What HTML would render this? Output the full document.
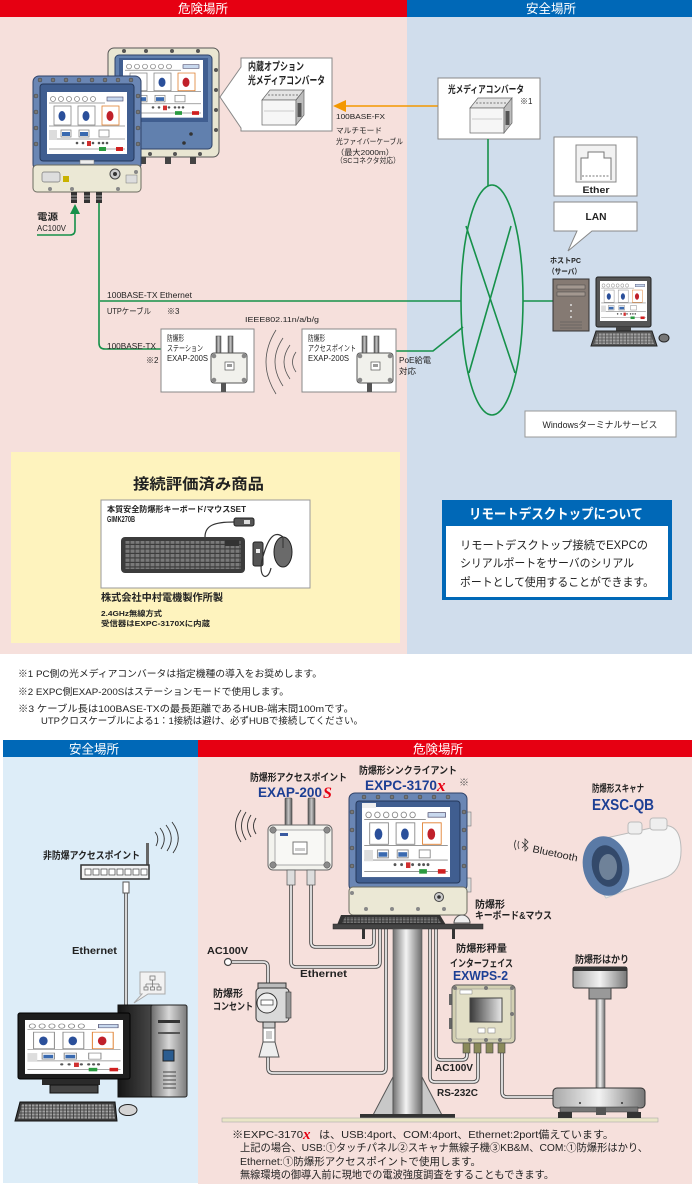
<!DOCTYPE html>
<html><head><meta charset="utf-8">
<style>
html,body{margin:0;padding:0;background:#fff;width:700px;height:1196px;overflow:hidden}
svg{display:block}
text{font-family:"Liberation Sans","Noto Sans CJK JP",sans-serif;fill:#222}
.b{font-weight:bold}
.w{fill:#fff}
.nv{fill:#1d3f94}
</style></head><body>
<svg width="700" height="1196" viewBox="0 0 700 1196" xmlns="http://www.w3.org/2000/svg" xmlns:xlink="http://www.w3.org/1999/xlink">
<defs>
<linearGradient id="gPole" x1="0" x2="1"><stop offset="0" stop-color="#707070"/><stop offset=".45" stop-color="#f4f4f4"/><stop offset="1" stop-color="#6a6a6a"/></linearGradient>
<linearGradient id="gMetal" x1="0" x2="1"><stop offset="0" stop-color="#a8a8a8"/><stop offset=".5" stop-color="#f2f2f2"/><stop offset="1" stop-color="#777"/></linearGradient>
<linearGradient id="gScr" x1="0" x2="1"><stop offset="0" stop-color="#3a3a3a"/><stop offset="1" stop-color="#e8e8e8"/></linearGradient>
<linearGradient id="gTower" x1="0" x2="1"><stop offset="0" stop-color="#151515"/><stop offset="1" stop-color="#4a4a4a"/></linearGradient>
<linearGradient id="gFront" x1="0" x2="1"><stop offset="0" stop-color="#6a6a6a"/><stop offset=".5" stop-color="#d8d8d8"/><stop offset="1" stop-color="#7a7a7a"/></linearGradient>
<linearGradient id="gAnt" x1="0" x2="1"><stop offset="0" stop-color="#555"/><stop offset=".5" stop-color="#c8c8c8"/><stop offset="1" stop-color="#555"/></linearGradient>
<pattern id="pKeys" width="5" height="4.5" patternUnits="userSpaceOnUse"><rect x=".5" y=".5" width="4" height="3.3" fill="#7a7a7a"/></pattern>
<pattern id="pKeys2" width="3.5" height="3" patternUnits="userSpaceOnUse"><rect x=".4" y=".4" width="2.7" height="2.2" fill="#a0a0a0"/></pattern>
<g id="scr">
 <rect width="80" height="62" fill="#fff"/>
 <g fill="none" stroke="#888" stroke-width="0.8">
  <circle cx="6" cy="7" r="2.5"/><circle cx="14" cy="7" r="2.5"/><circle cx="22" cy="7" r="2.5"/><circle cx="30" cy="7" r="2.5"/><circle cx="38" cy="7" r="2.5"/><circle cx="46" cy="7" r="2.5"/>
  <line x1="2" y1="11" x2="58" y2="11"/>
  <rect x="7" y="14" width="17" height="19"/><rect x="31" y="14" width="17" height="19"/>
  <line x1="2" y1="34" x2="78" y2="34"/>
  <rect x="14" y="38" width="10" height="7"/><rect x="32" y="38" width="10" height="7"/><rect x="52" y="38" width="10" height="7"/>
  <line x1="2" y1="47" x2="78" y2="47"/>
  <line x1="2" y1="57" x2="78" y2="57"/>
 </g>
 <rect x="55" y="14" width="17" height="19" fill="#fff" stroke="#e08030" stroke-width="0.8"/>
 <rect x="60" y="5" width="16" height="4" fill="#c8d8ee" stroke="#446" stroke-width="0.6"/>
 <ellipse cx="15" cy="24" rx="3.5" ry="5" fill="#2a4f9a"/><ellipse cx="39" cy="24" rx="3.5" ry="5" fill="#2a4f9a"/><ellipse cx="63" cy="24" rx="3.5" ry="5" fill="#c0202a"/>
 <rect x="15" y="40" width="8" height="4" fill="#3a6ab0"/><rect x="33" y="40" width="8" height="4" fill="#3a6ab0"/>
 <rect x="2" y="38" width="8" height="10" fill="#ddd"/>
 <g fill="#555"><circle cx="30" cy="51" r="1.3"/><circle cx="36" cy="51" r="1.3"/><circle cx="46" cy="51" r="1.3"/><circle cx="52" cy="51" r="1.3"/><circle cx="56" cy="51" r="1.3"/><circle cx="60" cy="51" r="1.3"/></g>
 <rect x="40" y="49" width="4" height="5" fill="#d03030"/>
 <rect x="52" y="55" width="7" height="4" fill="#2a9a40"/><rect x="69" y="55" width="7" height="4" fill="#d02020"/>
</g>
<g id="cables" fill="none">
 <path d="M291,885 V962 Q291,967 296,967 H375 Q380,967 380,962 V929"/>
 <path d="M311,885 V942 Q311,947 316,947 H369 Q374,947 374,942 V929"/>
 <path d="M268,1057 V1068 Q268,1073 273,1073 H381 Q386,1073 386,1068 V929"/>
 <path d="M232,962 H263 Q268,962 268,967 V985"/>
 <path d="M436,929 V1055 Q436,1060 441,1060 H462 Q467,1060 467,1055 V1052"/>
 <path d="M430,929 V1077 Q430,1082 435,1082 H473 Q478,1082 478,1077 V1052"/>
 <path d="M502,1052 V1092 Q502,1097 507,1097 H554"/>
 <path d="M126,893 V1006"/>
</g>
<g id="exap">
 <rect x="216" y="336" width="5" height="20" fill="url(#gAnt)" stroke="#444" stroke-width=".5"/>
 <rect x="228" y="336" width="5" height="20" fill="url(#gAnt)" stroke="#444" stroke-width=".5"/>
 <rect x="211" y="353" width="36" height="30" rx="3" fill="#f1f1ec" stroke="#555"/>
 <g fill="#888"><circle cx="214" cy="356" r="2.3"/><circle cx="244" cy="356" r="2.3"/><circle cx="214" cy="380" r="2.3"/><circle cx="244" cy="380" r="2.3"/></g>
 <rect x="225" y="362" width="9" height="8" fill="#fff" stroke="#555" stroke-width=".7"/>
 <rect x="227" y="364" width="5" height="3" fill="#999"/>
 <rect x="221" y="383" width="5" height="9" fill="#555"/>
</g>
<g id="conv">
 <polygon points="0,11 8,1 42,1 34,11" fill="#e4e4e4" stroke="#666" stroke-width=".7"/>
 <rect x="0" y="11" width="34" height="25" fill="#f6f6f6" stroke="#666" stroke-width=".7"/>
 <polygon points="34,11 42,1 42,26 34,36" fill="#bdbdbd" stroke="#666" stroke-width=".7"/>
 <line x1="6" y1="6" x2="36" y2="6" stroke="#777" stroke-dasharray="2 1.5"/>
 <line x1="2" y1="22" x2="32" y2="22" stroke="#ccc"/>
 <rect x="35.5" y="14" width="4" height="14" fill="#555"/>
</g>
</defs>

<!-- ================= TOP SECTION ================= -->
<rect x="0" y="17" width="407" height="637" fill="#f6e0dc"/>
<rect x="407" y="17" width="285" height="637" fill="#d0ddec"/>
<rect x="0" y="0" width="407" height="17" fill="#e60012"/>
<rect x="407" y="0" width="285" height="17" fill="#0068b7"/>
<text x="203" y="13" class="w" font-size="12.5" text-anchor="middle">危険場所</text>
<text x="551" y="13" class="w" font-size="12.5" text-anchor="middle">安全場所</text>

<!-- back EXPC -->
<rect x="108" y="48" width="111" height="109" rx="6" fill="#e9e6d2" stroke="#555"/>
<rect x="115" y="55" width="97" height="94" rx="4" fill="#6180ae" stroke="#2e4268"/>
<rect x="119" y="58" width="89" height="64" fill="#405e90"/>
<use xlink:href="#scr" transform="translate(123,60) scale(1,0.93)"/>
<g fill="#333"><circle cx="191" cy="134" r="1.8"/><circle cx="184" cy="143" r="1.8"/></g>
<g fill="#555"><circle cx="124" cy="51" r="2"/><circle cx="146" cy="51" r="2"/><circle cx="172" cy="51" r="2"/><circle cx="198" cy="51" r="2"/>
<circle cx="216" cy="70" r="2"/><circle cx="216" cy="90" r="2"/><circle cx="216" cy="110" r="2"/><circle cx="216" cy="130" r="2"/>
<circle cx="150" cy="154" r="2"/><circle cx="175" cy="154" r="2"/><circle cx="200" cy="154" r="2"/></g>
<rect x="140" y="157" width="6" height="7" fill="#444"/><rect x="165" y="157" width="6" height="7" fill="#444"/><rect x="190" y="157" width="6" height="7" fill="#444"/>

<!-- front EXPC -->
<rect x="33" y="76" width="108" height="94" rx="6" fill="#6a86b4" stroke="#2e4268"/>
<rect x="40" y="84" width="94" height="77" rx="3" fill="#405e90" stroke="#25385a"/>
<use xlink:href="#scr" x="47" y="92"/>
<g fill="#777" stroke="#333" stroke-width=".4">
<circle cx="40" cy="80" r="2"/><circle cx="53" cy="80" r="2"/><circle cx="66" cy="80" r="2"/><circle cx="79" cy="80" r="2"/><circle cx="92" cy="80" r="2"/><circle cx="105" cy="80" r="2"/><circle cx="118" cy="80" r="2"/><circle cx="131" cy="80" r="2"/>
<circle cx="36" cy="96" r="2"/><circle cx="36" cy="112" r="2"/><circle cx="36" cy="128" r="2"/><circle cx="36" cy="144" r="2"/>
<circle cx="138" cy="96" r="2"/><circle cx="138" cy="112" r="2"/><circle cx="138" cy="128" r="2"/><circle cx="138" cy="144" r="2"/>
</g>
<rect x="80" y="160" width="14" height="4" fill="#eee" stroke="#777" stroke-width=".5"/>
<rect x="33" y="165" width="108" height="27" rx="4" fill="#ebe8d5" stroke="#6b6b60"/>
<rect x="42" y="172" width="18" height="10" rx="2" fill="#ddd" stroke="#777" stroke-width=".7"/>
<rect x="63" y="176" width="6" height="6" fill="#c9b200"/>
<circle cx="115" cy="174" r="5" fill="#ccc" stroke="#444"/><circle cx="115" cy="174" r="2" fill="#333"/>
<rect x="126" y="175" width="11" height="8" fill="#ddd" stroke="#777" stroke-width=".5"/>
<g fill="#888"><circle cx="50" cy="189" r="2"/><circle cx="72" cy="189" r="2"/><circle cx="118" cy="189" r="2"/><circle cx="136" cy="172" r="2"/></g>
<g fill="#333"><rect x="71" y="192" width="6" height="11"/><rect x="84" y="192" width="6" height="11"/><rect x="96" y="192" width="6" height="11"/></g>
<g stroke="#bbb" stroke-width=".8"><line x1="71" y1="196" x2="77" y2="196"/><line x1="84" y1="196" x2="90" y2="196"/><line x1="96" y1="196" x2="102" y2="196"/><line x1="71" y1="199" x2="77" y2="199"/><line x1="84" y1="199" x2="90" y2="199"/><line x1="96" y1="199" x2="102" y2="199"/></g>

<!-- callout 内蔵オプション -->
<path d="M241,58 H332 V131 H241 V128 L220,97 L241,67 Z" fill="#fff" stroke="#888"/>
<text x="248" y="70" class="b" font-size="11" textLength="56" lengthAdjust="spacingAndGlyphs">内蔵オプション</text>
<text x="248" y="84" class="b" font-size="11" textLength="77" lengthAdjust="spacingAndGlyphs">光メディアコンバータ</text>
<use xlink:href="#conv" x="262" y="89"/>

<!-- orange fiber -->
<line x1="344" y1="106" x2="438" y2="106" stroke="#f39800" stroke-width="1.5"/>
<polygon points="333,106 346,100 346,112" fill="#f39800"/>
<text x="336" y="119" font-size="7.5" textLength="49" lengthAdjust="spacingAndGlyphs">100BASE-FX</text>
<text x="336" y="133" font-size="7.5" textLength="46" lengthAdjust="spacingAndGlyphs">マルチモード</text>
<text x="336" y="144" font-size="7.5" textLength="67" lengthAdjust="spacingAndGlyphs">光ファイバーケーブル</text>
<text x="336" y="155" font-size="7.5" textLength="58" lengthAdjust="spacingAndGlyphs">（最大2000m）</text>
<text x="336" y="163" font-size="7.5" textLength="64" lengthAdjust="spacingAndGlyphs">（SCコネクタ対応）</text>

<!-- right converter -->
<rect x="438" y="78" width="102" height="61" fill="#fff" stroke="#888"/>
<text x="448" y="93" class="b" font-size="10" textLength="76" lengthAdjust="spacingAndGlyphs">光メディアコンバータ</text>
<text x="520" y="104" font-size="8">※1</text>
<use xlink:href="#conv" x="470" y="97"/>

<!-- Ether / LAN -->
<rect x="554" y="137" width="83" height="59" fill="#fff" stroke="#888"/>
<rect x="576" y="145" width="40" height="37" fill="#f2f2f2" stroke="#888"/>
<path d="M581,180 V158 H588 V152 H604 V158 H611 V180" fill="#fff" stroke="#777"/>
<line x1="582" y1="176" x2="610" y2="176" stroke="#777" stroke-dasharray="2 1.5"/>
<text x="596" y="193" text-anchor="middle" class="b" font-size="9" textLength="27" lengthAdjust="spacingAndGlyphs">Ether</text>
<path d="M554,202 H637 V231 H592 L568,251 L577,231 H554 Z" fill="#fff" stroke="#888"/>
<text x="596" y="220" text-anchor="middle" class="b" font-size="10" textLength="21" lengthAdjust="spacingAndGlyphs">LAN</text>

<!-- green network lines -->
<g fill="none" stroke="#16914a" stroke-width="1.6">
 <line x1="488" y1="139" x2="488" y2="186"/>
 <ellipse cx="492" cy="300" rx="31" ry="115"/>
 <line x1="466" y1="226" x2="515" y2="373"/>
 <line x1="511" y1="226" x2="469" y2="373"/>
 <line x1="100" y1="301" x2="461" y2="301"/>
 <line x1="523" y1="301" x2="553" y2="301"/>
 <path d="M99,203 V343 Q99,349 105,349 H161"/>
 <polyline points="396,351 433,351 463,327"/>
 <path d="M37,235 H70 Q75,235 75,230 V213"/>
</g>
<polygon points="75,204 70,214 80,214" fill="#16914a"/>
<text x="37" y="220" class="b" font-size="9" textLength="21" lengthAdjust="spacingAndGlyphs">電源</text>
<text x="37" y="231" font-size="8.5" textLength="29" lengthAdjust="spacingAndGlyphs">AC100V</text>

<text x="107" y="298" font-size="8" textLength="85" lengthAdjust="spacingAndGlyphs">100BASE-TX Ethernet</text>
<text x="107" y="314" font-size="8" textLength="44" lengthAdjust="spacingAndGlyphs">UTPケーブル</text>
<text x="167" y="314" font-size="8">※3</text>
<text x="107" y="349" font-size="8" textLength="49" lengthAdjust="spacingAndGlyphs">100BASE-TX</text>
<text x="146" y="363" font-size="8">※2</text>
<text x="245" y="322" font-size="7.5" textLength="74" lengthAdjust="spacingAndGlyphs">IEEE802.11n/a/b/g</text>

<!-- station box -->
<rect x="161" y="329" width="93" height="63" fill="#fff" stroke="#888"/>
<text x="167" y="341" font-size="8" textLength="17" lengthAdjust="spacingAndGlyphs">防爆形</text>
<text x="167" y="351" font-size="8" textLength="36" lengthAdjust="spacingAndGlyphs">ステーション</text>
<text x="167" y="361" font-size="8" textLength="41" lengthAdjust="spacingAndGlyphs">EXAP-200S</text>
<use xlink:href="#exap"/>
<!-- AP box -->
<rect x="302" y="329" width="94" height="63" fill="#fff" stroke="#888"/>
<text x="308" y="341" font-size="8" textLength="17" lengthAdjust="spacingAndGlyphs">防爆形</text>
<text x="308" y="351" font-size="8" textLength="48" lengthAdjust="spacingAndGlyphs">アクセスポイント</text>
<text x="308" y="361" font-size="8" textLength="41" lengthAdjust="spacingAndGlyphs">EXAP-200S</text>
<use xlink:href="#exap" x="146"/>
<!-- waves -->
<g fill="none" stroke="#555" stroke-width=".8">
 <path d="M276,330 Q256,362 276,394"/>
 <path d="M283,338 Q267,362 283,386"/>
 <path d="M290,345 Q278,362 290,379"/>
 <path d="M296,352 Q289,362 296,372"/>
</g>
<text x="399" y="363" font-size="8" textLength="32" lengthAdjust="spacingAndGlyphs">PoE給電</text>
<text x="399" y="374" font-size="8" textLength="17" lengthAdjust="spacingAndGlyphs">対応</text>

<!-- host PC -->
<text x="550" y="263" class="b" font-size="7.5" textLength="31" lengthAdjust="spacingAndGlyphs">ホストPC</text>
<text x="548" y="274" class="b" font-size="7.5" textLength="33" lengthAdjust="spacingAndGlyphs">（サーバ）</text>
<rect x="553" y="279" width="36" height="52" fill="#857a73" stroke="#333"/>
<rect x="557" y="285" width="28" height="4" fill="#a39890" stroke="#444" stroke-width=".5"/>
<rect x="557" y="292" width="28" height="4" fill="#a39890" stroke="#444" stroke-width=".5"/>
<g fill="#ddd"><circle cx="571" cy="305" r="1"/><circle cx="571" cy="311" r="1"/><circle cx="571" cy="317" r="1"/></g>
<g stroke="#555" stroke-width=".6"><line x1="560" y1="322" x2="582" y2="322"/><line x1="560" y1="325" x2="582" y2="325"/><line x1="560" y1="328" x2="582" y2="328"/></g>
<rect x="596" y="277" width="55" height="50" rx="2" fill="#555" stroke="#222"/>
<use xlink:href="#scr" transform="translate(600,281) scale(0.5875,0.645)"/>
<rect x="616" y="327" width="15" height="4" fill="#444"/>
<polygon points="591,346 596,331 652,331 657,346" fill="#555" stroke="#222"/>
<polygon points="594,344 598,333 650,333 654,344" fill="url(#pKeys2)"/>
<ellipse cx="664" cy="338" rx="5" ry="4" fill="#777" stroke="#222"/>

<rect x="525" y="411" width="151" height="26" fill="#fff" stroke="#999"/>
<text x="600" y="428" text-anchor="middle" font-size="9" textLength="115" lengthAdjust="spacingAndGlyphs">Windowsターミナルサービス</text>

<!-- yellow box -->
<rect x="11" y="452" width="389" height="191" fill="#fef3be"/>
<text x="133" y="489" class="b" font-size="15" textLength="131" lengthAdjust="spacingAndGlyphs">接続評価済み商品</text>
<rect x="101" y="500" width="209" height="88" fill="#fff" stroke="#999"/>
<text x="107" y="512" class="b" font-size="8" textLength="139" lengthAdjust="spacingAndGlyphs">本質安全防爆形キーボード/マウスSET</text>
<text x="107" y="522" class="b" font-size="8" textLength="28" lengthAdjust="spacingAndGlyphs">GIMK270B</text>
<path d="M205,537 C205,525 215,522 234,522" fill="none" stroke="#333" stroke-width="1.2"/>
<rect x="234" y="518" width="20" height="8" rx="2" fill="#555" stroke="#222"/>
<rect x="244" y="520" width="6" height="4" fill="#ddd"/>
<rect x="121" y="537" width="124" height="36" rx="4" fill="#3c3c3c"/>
<rect x="125" y="541" width="116" height="28" fill="url(#pKeys)"/>
<rect x="225" y="540" width="14" height="6" fill="#333"/>
<rect x="253" y="542" width="10" height="24" rx="2" fill="#555" stroke="#222"/>
<rect x="256" y="549" width="4" height="4" fill="#eee"/>
<path d="M283,537 C272,528 266,545 262,560 C258,578 268,582 271,568" fill="none" stroke="#333" stroke-width="1.2"/>
<ellipse cx="283" cy="552" rx="9" ry="15" fill="#6a6a6a" stroke="#222"/>
<line x1="283" y1="538" x2="283" y2="548" stroke="#333"/>
<text x="101" y="601" class="b" font-size="10" textLength="122" lengthAdjust="spacingAndGlyphs">株式会社中村電機製作所製</text>
<text x="101" y="616" class="b" font-size="7.5" textLength="61" lengthAdjust="spacingAndGlyphs">2.4GHz無線方式</text>
<text x="101" y="626" class="b" font-size="7.5" textLength="109" lengthAdjust="spacingAndGlyphs">受信器はEXPC-3170Xに内蔵</text>

<!-- remote desktop box -->
<rect x="442" y="500" width="230" height="100" fill="#0068b7"/>
<rect x="446" y="526" width="222" height="71" fill="#fff"/>
<text x="469" y="519" class="b w" font-size="14" textLength="174" lengthAdjust="spacingAndGlyphs">リモートデスクトップについて</text>
<text x="460" y="549" font-size="11.5" textLength="188" lengthAdjust="spacingAndGlyphs">リモートデスクトップ接続でEXPCの</text>
<text x="460" y="567" font-size="11.5" textLength="174" lengthAdjust="spacingAndGlyphs">シリアルポートをサーバのシリアル</text>
<text x="460" y="586" font-size="11.5" textLength="194" lengthAdjust="spacingAndGlyphs">ポートとして使用することができます。</text>

<!-- ================= NOTES ================= -->
<text x="18" y="677" font-size="9.5" textLength="304" lengthAdjust="spacingAndGlyphs">※1 PC側の光メディアコンバータは指定機種の導入をお奨めします。</text>
<text x="18" y="695" font-size="9.5" textLength="271" lengthAdjust="spacingAndGlyphs">※2 EXPC側EXAP-200Sはステーションモードで使用します。</text>
<text x="18" y="712" font-size="9.5" textLength="336" lengthAdjust="spacingAndGlyphs">※3 ケーブル長は100BASE-TXの最長距離であるHUB-端末間100mです。</text>
<text x="41" y="724" font-size="9.5" textLength="322" lengthAdjust="spacingAndGlyphs">UTPクロスケーブルによる1：1接続は避け、必ずHUBで接続してください。</text>

<!-- ================= BOTTOM SECTION ================= -->
<rect x="3" y="757" width="195" height="426" fill="#ddedf8"/>
<rect x="198" y="757" width="494" height="427" fill="#f6e0dc"/>
<rect x="3" y="740" width="195" height="17" fill="#0068b7"/>
<rect x="198" y="740" width="494" height="17" fill="#e60012"/>
<text x="94" y="753.5" class="w" font-size="12.5" text-anchor="middle">安全場所</text>
<text x="438" y="753.5" class="w" font-size="12.5" text-anchor="middle">危険場所</text>

<!-- cables -->
<use xlink:href="#cables" stroke="#4a4a4a" stroke-width="3.6"/>
<use xlink:href="#cables" stroke="#e8e8e8" stroke-width="1.8"/>
<circle cx="228" cy="962" r="3.5" fill="#fff" stroke="#444" stroke-width="1.2"/>

<!-- left: non-explosion AP -->
<text x="43" y="859" class="b" font-size="10" textLength="97" lengthAdjust="spacingAndGlyphs">非防爆アクセスポイント</text>
<rect x="146" y="843" width="3" height="22" fill="#666"/>
<rect x="81" y="865" width="68" height="14" fill="#f4f4f4" stroke="#333" stroke-width="1.5"/>
<g fill="#fff" stroke="#444" stroke-width=".7">
<rect x="85" y="869" width="6" height="6"/><rect x="93" y="869" width="6" height="6"/><rect x="101" y="869" width="6" height="6"/><rect x="109" y="869" width="6" height="6"/><rect x="117" y="869" width="6" height="6"/><rect x="125" y="869" width="6" height="6"/><rect x="133" y="869" width="6" height="6"/><rect x="141" y="869" width="6" height="6"/></g>
<g fill="none" stroke="#333" stroke-width=".9">
 <path d="M155,832 Q160,838 156,846"/><path d="M160,828 Q168,838 161,849"/><path d="M166,825 Q176,838 167,851"/><path d="M172,822 Q184,838 173,853"/></g>
<rect x="123" y="882" width="6" height="11" fill="#fff" stroke="#555"/>
<text x="72" y="954" class="b" font-size="10.5" textLength="45" lengthAdjust="spacingAndGlyphs">Ethernet</text>

<!-- left PC -->
<path d="M140,972 H165 V994 H148 L134,1003 L142,994 H140 Z" fill="#f2f2f2" stroke="#aaa"/>
<g stroke="#777" stroke-width=".8" fill="none"><rect x="150" y="976" width="5" height="4"/><path d="M152.5,980 V984 M146,984 H159 M146,984 V987 M152.5,984 V987 M159,984 V987"/><rect x="144" y="987" width="4" height="3"/><rect x="150.5" y="987" width="4" height="3"/><rect x="157" y="987" width="4" height="3"/></g>
<rect x="118" y="1005" width="36" height="92" fill="url(#gTower)" stroke="#111"/>
<rect x="151" y="1005" width="36" height="92" rx="2" fill="url(#gFront)" stroke="#222"/>
<rect x="158" y="1020" width="22" height="3" fill="#333"/>
<rect x="158" y="1032" width="22" height="2" fill="#555"/>
<rect x="163" y="1050" width="11" height="11" fill="#2a5c90" stroke="#222"/>
<g stroke="#444" stroke-width="1"><line x1="163" y1="1072" x2="176" y2="1072"/><line x1="163" y1="1076" x2="176" y2="1076"/><line x1="163" y1="1080" x2="176" y2="1080"/><line x1="163" y1="1084" x2="176" y2="1084"/><line x1="163" y1="1088" x2="176" y2="1088"/></g>
<rect x="18" y="1013" width="112" height="66" rx="2" fill="#1e1e1e" stroke="#000"/>
<use xlink:href="#scr" transform="translate(25,1020) scale(1.225,0.87)"/>
<rect x="42" y="1079" width="58" height="6" fill="#2a2a2a"/>
<rect x="50" y="1085" width="48" height="8" fill="#444" stroke="#111"/>
<polygon points="15,1121 20,1102 115,1102 117,1121" fill="#3a3a3a" stroke="#111"/>
<polygon points="18,1119 22,1104 113,1104 115,1119" fill="url(#pKeys2)"/>
<ellipse cx="128" cy="1110" rx="9" ry="5.5" fill="#d4d4d4" stroke="#222"/>

<!-- EXAP-200S (bottom) -->
<text x="250" y="781" class="b" font-size="10" textLength="97" lengthAdjust="spacingAndGlyphs">防爆形アクセスポイント</text>
<text x="258" y="797" class="b nv" font-size="14" textLength="64" lengthAdjust="spacingAndGlyphs">EXAP-200</text>
<text x="323" y="798" font-style="italic" font-weight="bold" font-size="16" style="fill:#e60012;font-family:'Liberation Serif',serif">S</text>
<g fill="none" stroke="#333" stroke-width=".9">
 <path d="M256,818 Q251,826 256,834"/><path d="M251,815 Q244,826 251,837"/><path d="M246,812 Q237,826 246,840"/><path d="M241,810 Q230,826 241,842"/></g>
<rect x="285" y="798" width="7" height="30" rx="1" fill="url(#gAnt)" stroke="#444" stroke-width=".6"/>
<rect x="308" y="798" width="7" height="30" rx="1" fill="url(#gAnt)" stroke="#444" stroke-width=".6"/>
<rect x="268" y="825" width="64" height="45" rx="5" fill="#f3f3ee" stroke="#666"/>
<rect x="275" y="830" width="50" height="35" rx="2" fill="#f8f8f5" stroke="#aaa"/>
<g fill="#8a8a8a" stroke="#444" stroke-width=".5"><circle cx="273" cy="830" r="3.2"/><circle cx="327" cy="830" r="3.2"/><circle cx="273" cy="865" r="3.2"/><circle cx="327" cy="865" r="3.2"/></g>
<rect x="280" y="833" width="8" height="3" fill="#3a5aa0"/>
<rect x="293" y="842" width="14" height="12" fill="#fff" stroke="#777"/>
<rect x="295" y="848" width="10" height="3" fill="#ccc"/>
<g fill="#ddd" stroke="#555" stroke-width=".7"><rect x="287" y="870" width="8" height="15"/><rect x="307" y="870" width="8" height="15"/></g>

<!-- EXPC-3170X (bottom) -->
<text x="359" y="774" class="b" font-size="10" textLength="98" lengthAdjust="spacingAndGlyphs">防爆形シンクライアント</text>
<text x="365" y="790" class="b nv" font-size="14" textLength="72" lengthAdjust="spacingAndGlyphs">EXPC-3170</text>
<text x="437" y="791" font-style="italic" font-weight="bold" font-size="17" style="fill:#e60012;font-family:'Liberation Serif',serif">x</text>
<text x="459" y="786" font-size="10" style="fill:#555">※</text>
<rect x="466" y="812" width="5" height="14" fill="#ddd" stroke="#777" stroke-width=".6"/>
<rect x="466" y="878" width="5" height="14" fill="#ddd" stroke="#777" stroke-width=".6"/>
<rect x="349" y="793" width="118" height="98" rx="6" fill="#6a86b4" stroke="#2e4268"/>
<rect x="356" y="801" width="104" height="82" rx="3" fill="#405e90" stroke="#25385a"/>
<use xlink:href="#scr" transform="translate(362,807) scale(1.1,1.13)"/>
<rect x="362" y="803" width="14" height="5" fill="#eee"/>
<g fill="#777" stroke="#333" stroke-width=".4">
<circle cx="364" cy="797" r="2"/><circle cx="378" cy="797" r="2"/><circle cx="392" cy="797" r="2"/><circle cx="406" cy="797" r="2"/><circle cx="420" cy="797" r="2"/><circle cx="434" cy="797" r="2"/><circle cx="448" cy="797" r="2"/>
<circle cx="352" cy="812" r="2"/><circle cx="352" cy="830" r="2"/><circle cx="352" cy="848" r="2"/><circle cx="352" cy="866" r="2"/>
<circle cx="464" cy="812" r="2"/><circle cx="464" cy="830" r="2"/><circle cx="464" cy="848" r="2"/><circle cx="464" cy="866" r="2"/></g>
<rect x="349" y="887" width="118" height="28" rx="4" fill="#ebe8d5" stroke="#6b6b60"/>
<circle cx="439" cy="897" r="4.5" fill="#ccc" stroke="#444"/><circle cx="439" cy="897" r="1.8" fill="#333"/>
<g fill="#888"><circle cx="366" cy="909" r="2"/><circle cx="392" cy="909" r="2"/><circle cx="418" cy="909" r="2"/><circle cx="444" cy="909" r="2"/><circle cx="352" cy="893" r="2"/></g>

<!-- table / pole -->
<polygon points="337,925 341,915 440,915 446,925" fill="#333"/>
<polygon points="342,923 345,917 437,917 441,923" fill="url(#pKeys2)" opacity=".6"/>
<path d="M454,923 A8,8 0 0 1 470,923 Z" fill="#eee" stroke="#555"/>
<rect x="333" y="924" width="150" height="5" fill="#444" stroke="#222" stroke-width=".5"/>
<rect x="362" y="929" width="3" height="10" fill="#333"/>
<rect x="452" y="929" width="3" height="10" fill="#333"/>
<rect x="393" y="929" width="29" height="189" fill="url(#gPole)" stroke="#555" stroke-width=".6"/>
<polygon points="372,1117 393,1077 393,1117" fill="#c8c8c8" stroke="#555"/>
<polygon points="422,1077 443,1117 422,1117" fill="#c8c8c8" stroke="#555"/>
<rect x="360" y="1114" width="95" height="4" fill="#333"/>
<rect x="222" y="1118" width="436" height="4" fill="#eae6c6" stroke="#aaa" stroke-width=".6"/>

<text x="475" y="908" class="b" font-size="10" textLength="30" lengthAdjust="spacingAndGlyphs">防爆形</text>
<text x="475" y="919" class="b" font-size="10" textLength="77" lengthAdjust="spacingAndGlyphs">キーボード&amp;マウス</text>

<!-- outlet -->
<text x="207" y="954" class="b" font-size="10.5" textLength="41" lengthAdjust="spacingAndGlyphs">AC100V</text>
<text x="213" y="997" class="b" font-size="10" textLength="30" lengthAdjust="spacingAndGlyphs">防爆形</text>
<text x="213" y="1010" class="b" font-size="10" textLength="40" lengthAdjust="spacingAndGlyphs">コンセント</text>
<text x="300" y="977" class="b" font-size="10.5" textLength="47" lengthAdjust="spacingAndGlyphs">Ethernet</text>
<rect x="258" y="983" width="28" height="6" fill="#bbb" stroke="#333"/>
<rect x="256" y="988" width="33" height="34" rx="4" fill="#d9d9d9" stroke="#333"/>
<rect x="286" y="992" width="5" height="26" fill="#999" stroke="#333" stroke-width=".6"/>
<circle cx="267" cy="1003" r="10" fill="#f0f0f0" stroke="#333"/>
<rect x="261" y="1000" width="12" height="5" fill="#fff" stroke="#333" stroke-width=".7"/>
<rect x="263" y="1022" width="12" height="6" fill="#ccc" stroke="#333"/>
<rect x="263" y="1028" width="12" height="14" fill="#fff" stroke="#555"/>
<rect x="266" y="1031" width="6" height="8" fill="#ccc"/>
<polygon points="263,1042 275,1042 279,1057 259,1057" fill="#eee" stroke="#555"/>

<!-- EXWPS-2 -->
<text x="456" y="952" class="b" font-size="10" textLength="51" lengthAdjust="spacingAndGlyphs">防爆形秤量</text>
<text x="450" y="967" class="b" font-size="10" textLength="63" lengthAdjust="spacingAndGlyphs">インターフェイス</text>
<text x="453" y="980" class="b nv" font-size="13" textLength="55" lengthAdjust="spacingAndGlyphs">EXWPS-2</text>
<rect x="449" y="994" width="4" height="11" fill="#666"/><rect x="449" y="1018" width="4" height="11" fill="#666"/>
<rect x="452" y="985" width="63" height="58" rx="4" fill="#d3d0b2" stroke="#555"/>
<rect x="456" y="989" width="55" height="50" rx="2" fill="#e2dfc6" stroke="#888" stroke-width=".6"/>
<rect x="460" y="990" width="12" height="4" fill="#fff" stroke="#666" stroke-width=".4"/>
<rect x="470" y="998" width="32" height="24" fill="url(#gScr)" stroke="#444"/>
<rect x="478" y="1028" width="7" height="5" fill="#fff" stroke="#777" stroke-width=".5"/><rect x="488" y="1028" width="7" height="5" fill="#fff" stroke="#777" stroke-width=".5"/>
<g fill="#777"><circle cx="455" cy="988" r="2"/><circle cx="486" cy="988" r="2"/><circle cx="512" cy="988" r="2"/><circle cx="512" cy="1014" r="2"/><circle cx="470" cy="1040" r="2"/><circle cx="486" cy="1040" r="2"/><circle cx="500" cy="1040" r="2"/></g>
<g fill="#8a8a5a" stroke="#444" stroke-width=".6"><rect x="463" y="1043" width="7" height="10"/><rect x="474" y="1043" width="7" height="10"/><rect x="486" y="1043" width="7" height="10"/><rect x="498" y="1043" width="7" height="10"/></g>

<!-- scale -->
<text x="575" y="963" class="b" font-size="10" textLength="54" lengthAdjust="spacingAndGlyphs">防爆形はかり</text>
<rect x="573" y="967" width="54" height="21" rx="2" fill="url(#gMetal)" stroke="#333"/>
<rect x="573" y="967" width="54" height="4" fill="#333"/>
<rect x="589" y="988" width="22" height="11" fill="#999" stroke="#444"/>
<rect x="596" y="999" width="9" height="90" fill="url(#gPole)" stroke="#555" stroke-width=".6"/>
<rect x="553" y="1088" width="92" height="20" rx="4" fill="url(#gMetal)" stroke="#333"/>
<rect x="560" y="1107" width="78" height="5" fill="#777" stroke="#333" stroke-width=".5"/>
<rect x="596" y="1107" width="10" height="8" fill="#555"/>
<g fill="#333"><rect x="558" y="1112" width="14" height="6"/><rect x="627" y="1112" width="14" height="6"/><circle cx="580" cy="1103" r="1"/><circle cx="622" cy="1103" r="1"/></g>

<text x="435" y="1071" class="b" font-size="10" textLength="38" lengthAdjust="spacingAndGlyphs">AC100V</text>
<text x="437" y="1096" class="b" font-size="10" textLength="41" lengthAdjust="spacingAndGlyphs">RS-232C</text>

<!-- scanner -->
<text x="592" y="792" class="b" font-size="10" textLength="52" lengthAdjust="spacingAndGlyphs">防爆形スキャナ</text>
<text x="592" y="810" class="b nv" font-size="16" textLength="62" lengthAdjust="spacingAndGlyphs">EXSC-QB</text>
<path d="M606,838 L660,826 Q680,822 681,848 Q682,872 664,878 L614,894 Z" fill="#f6f6f6" stroke="#bbb"/>
<rect x="628" y="822" width="14" height="12" rx="3" fill="#eee" stroke="#bbb"/>
<rect x="650" y="818" width="17" height="12" rx="3" fill="#eee" stroke="#bbb"/>
<path d="M598,886 L606,898 L622,892 Z" fill="#eee" stroke="#ccc"/>
<ellipse cx="606" cy="866" rx="23" ry="30" fill="#5a7aa6" transform="rotate(-12 606 866)"/>
<ellipse cx="607" cy="866" rx="15" ry="21" fill="#33496a" transform="rotate(-12 607 866)"/>
<ellipse cx="608" cy="867" rx="9" ry="13" fill="#6f8299"/>
<!-- bluetooth -->
<g fill="none" stroke="#333" stroke-width=".8">
 <path d="M516,840 Q513,845 516,850"/><path d="M519,841 Q517,845 519,849"/>
 <path d="M522,842 L528,848 L525,851 V839 L528,842 L522,848"/>
</g>
<text x="532" y="852" font-size="10" transform="rotate(12 532 852)" textLength="46" lengthAdjust="spacingAndGlyphs">Bluetooth</text>

<!-- bottom notes -->
<text x="232" y="1138" font-size="10.5" textLength="71" lengthAdjust="spacingAndGlyphs">※EXPC-3170</text>
<text x="303" y="1139" font-style="italic" font-weight="bold" font-size="15" style="fill:#e60012;font-family:'Liberation Serif',serif">x</text>
<text x="319" y="1138" font-size="10.5" textLength="295" lengthAdjust="spacingAndGlyphs">は、USB:4port、COM:4port、Ethernet:2port備えています。</text>
<text x="240" y="1151" font-size="10.5" textLength="408" lengthAdjust="spacingAndGlyphs">上記の場合、USB:①タッチパネル②スキャナ無線子機③KB&amp;M、COM:①防爆形はかり、</text>
<text x="240" y="1165" font-size="10.5" textLength="241" lengthAdjust="spacingAndGlyphs">Ethernet:①防爆形アクセスポイントで使用します。</text>
<text x="240" y="1178" font-size="10.5" textLength="314" lengthAdjust="spacingAndGlyphs">無線環境の御導入前に現地での電波強度調査をすることもできます。</text>
</svg>
</body></html>
